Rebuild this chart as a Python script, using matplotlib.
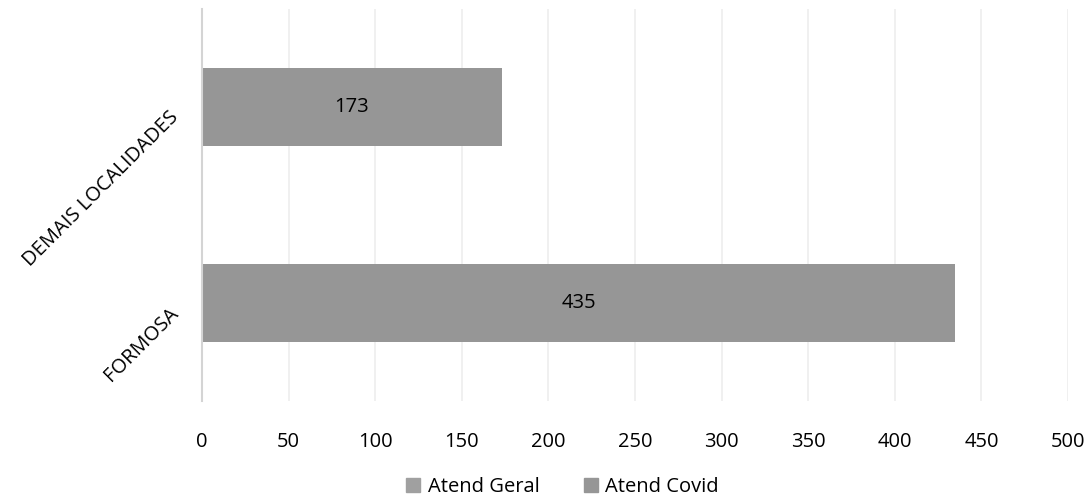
import numpy as np
import matplotlib.pyplot as plt
from matplotlib.patches import Patch

plt.rcParams['font.family'] = ['Open Sans', 'DejaVu Sans']

categorias = ["FORMOSA", "DEMAIS LOCALIDADES"]
atend_geral = [0, 0]
atend_covid = [435, 173]
series = ["Atend Geral", "Atend Covid"]
cores = ["#a0a0a0", "#969696"]
xticks = [0, 50, 100, 150, 200, 250, 300, 350, 400, 450, 500]

fig = plt.figure(figsize=(10.92, 5), dpi=100)
ax = fig.add_axes([0.185, 0.198, 0.793, 0.784])

y = np.arange(len(categorias))
ax.barh(y, atend_geral, height=0.4, color=cores[0])
bars = ax.barh(y, atend_covid, height=0.4, color=cores[1])
for b, v in zip(bars, atend_covid):
    ax.text(b.get_width() / 2, b.get_y() + b.get_height() / 2, str(v),
            ha="center", va="center", fontsize=14.5, color="#000000")

ax.set_xlim(0, 500)
ax.set_ylim(-0.5, 1.5)
ax.set_xticks(xticks)
ax.set_xticklabels([str(t) for t in xticks], fontsize=14.5)
ax.set_yticks(y)
ax.set_yticklabels(categorias, rotation=45, ha="right", va="top",
                   rotation_mode="anchor", fontsize=14.5)
ax.tick_params(axis="x", length=0, pad=22)
ax.tick_params(axis="y", length=0, pad=24)
ax.grid(axis="x", color="#ededed", linewidth=1.2)
ax.set_axisbelow(True)
for s in ["top", "right", "bottom"]:
    ax.spines[s].set_visible(False)
ax.spines["left"].set_color("#d4d4d4")
ax.spines["left"].set_linewidth(1.5)

handles = [Patch(color=c) for c in cores]
fig.legend(handles, series, loc="lower center", bbox_to_anchor=(0.515, -0.03),
           ncol=2, frameon=False, fontsize=14.5, handlelength=0.7,
           handleheight=0.7, handletextpad=0.35, columnspacing=2.2)

plt.savefig("out.png", dpi=100)
